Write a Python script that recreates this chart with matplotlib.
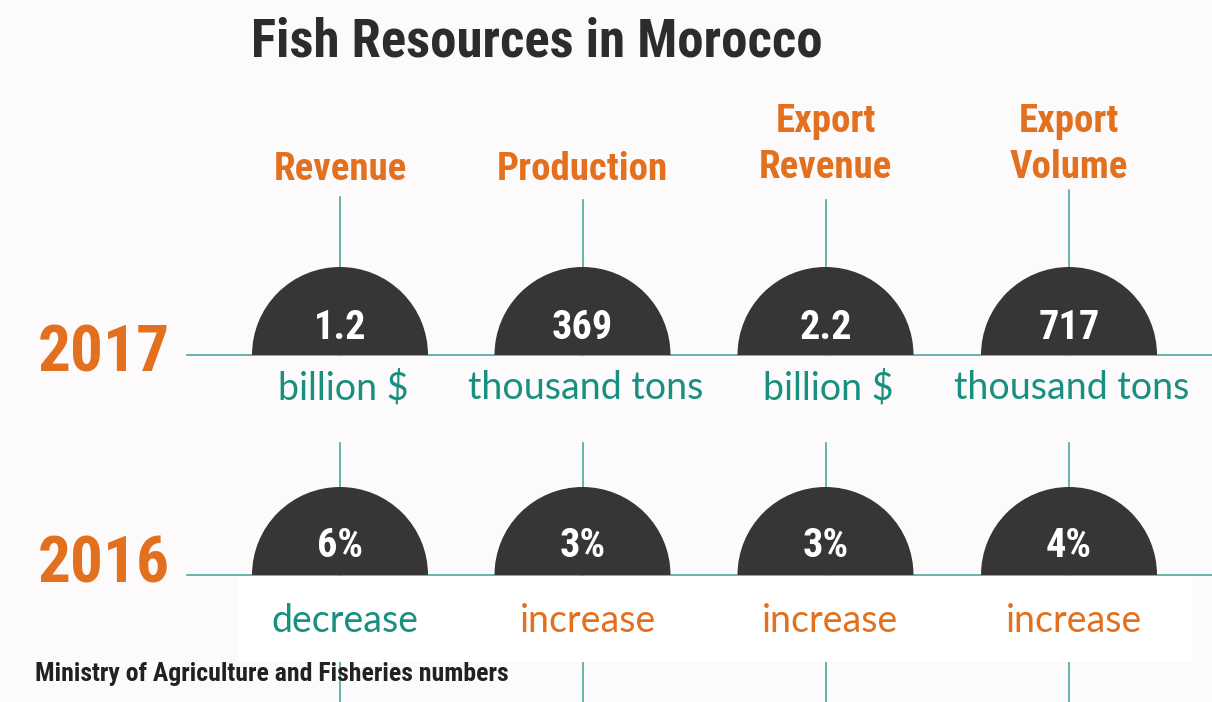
import matplotlib
matplotlib.use("Agg")
import matplotlib.pyplot as plt
from matplotlib.patches import Wedge, Rectangle

# figures
categories = ['Revenue', 'Production', 'Export\nRevenue', 'Export\nVolume']
values_2017 = ['1.2', '369', '2.2', '717']
units_2017 = ['billion $', 'thousand tons', 'billion $', 'thousand tons']
change_2016 = [-6, 3, 3, 4]   # percent change
years = ['2017', '2016']

ORANGE = '#e2701f'
TEAL = '#17907f'
LINE = '#3f9f97'
DARK = '#373536'
BG = '#fcfafb'
COND = ['Roboto Condensed', 'Barlow Condensed', 'DejaVu Sans']
SANS = ['Lato', 'PT Sans', 'DejaVu Sans']

fig = plt.figure(figsize=(12.12, 7.02), dpi=100, facecolor=BG)
ax = fig.add_axes([0, 0, 1, 1])
ax.set_xlim(0, 1212)
ax.set_ylim(702, 0)
ax.axis('off')
ax.set_facecolor(BG)

xs = [340, 582.5, 825.5, 1069]
row_y = [355, 575]
r = 88
top_y = [197, 200, 200, 190]

# connecting lines
for x, t in zip(xs, top_y):
    ax.plot([x, x], [t, row_y[0]], color=LINE, lw=1.1, zorder=1)
    ax.plot([x, x], [443, row_y[1]], color=LINE, lw=1.1, zorder=1)
    ax.plot([x, x], [640, 702], color=LINE, lw=1.1, zorder=1)
for y in row_y:
    ax.plot([187, 1212], [y, y], color=LINE, lw=1.1, zorder=1)

# white band behind the change labels
ax.add_patch(Rectangle((238, 576), 954, 86, facecolor='white', edgecolor='none', zorder=2))

ax.text(537, 42, 'Fish Resources in Morocco', ha='center', va='center',
        fontsize=38, fontweight='bold', color='#2d2b2c', family=COND)

for x, cat in zip(xs, categories):
    lines = cat.split('\n')
    ys = [170] if len(lines) == 1 else [122, 168]
    for y, s in zip(ys, lines):
        ax.text(x, y, s, ha='center', va='center', fontsize=28,
                fontweight='bold', color=ORANGE, family=COND)

for x, v, u in zip(xs, values_2017, units_2017):
    ax.add_patch(Wedge((x, row_y[0]), r, 180, 360, facecolor=DARK, edgecolor='none', zorder=3))
    ax.text(x, 328, v, ha='center', va='center', fontsize=29, fontweight='bold',
            color='white', family=COND, zorder=4)
    ax.text(x + 3, 388, u, ha='center', va='center', fontsize=27,
            color=TEAL, family=SANS)

for x, c in zip(xs, change_2016):
    ax.add_patch(Wedge((x, row_y[1]), r, 180, 360, facecolor=DARK, edgecolor='none', zorder=3))
    ax.text(x, 546, f'{abs(c)}%', ha='center', va='center', fontsize=29,
            fontweight='bold', color='white', family=COND, zorder=4)
    word = 'decrease' if c < 0 else 'increase'
    ax.text(x + 5, 621, word, ha='center', va='center', fontsize=27,
            color=TEAL if c < 0 else ORANGE, family=SANS, zorder=4)

for y, yr in zip([354, 565], years):
    ax.text(104, y, yr, ha='center', va='center', fontsize=47, fontweight='bold',
            color=ORANGE, family=COND)

ax.text(35, 674, 'Ministry of Agriculture and Fisheries numbers', ha='left', va='center',
        fontsize=18.5, fontweight='bold', color='#222021', family=COND, zorder=5)

fig.savefig('out.png', dpi=100, facecolor=BG)
